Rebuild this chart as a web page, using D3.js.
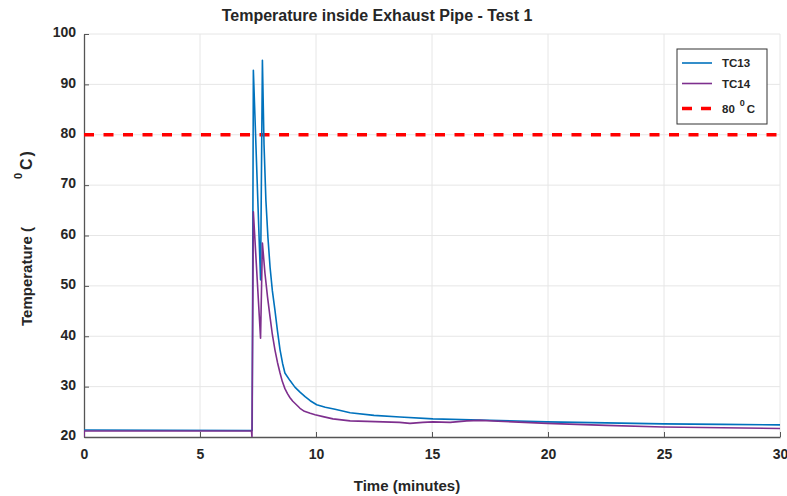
<!DOCTYPE html>
<html>
<head>
<meta charset="utf-8">
<script src="https://cdn.jsdelivr.net/npm/d3@7"></script>
<style>
  body { margin: 0; background: #fff; }
  text { font-family: "Liberation Sans", Arial, sans-serif; font-weight: bold; fill: #262626; }
</style>
</head>
<body>
<div id="chart"></div>
<script>
// data
const tc13Time = [0, 7.25, 7.30, 7.61, 7.69, 7.76, 7.84, 7.93, 8.02, 8.12, 8.23, 8.34, 8.45, 8.56, 8.66, 8.88, 9.09, 9.31, 9.53, 9.75, 10.03, 10.4, 10.82, 11.47, 12.5, 13.62, 15.04, 17.07, 19.96, 22.5, 24.96, 27.5, 30];
const tc13Temp = [21.4, 21.3, 92.8, 51.2, 94.8, 78.0, 67.0, 59.5, 53.7, 49.0, 45.2, 41.0, 37.3, 34.6, 32.7, 31.2, 29.9, 28.9, 28.0, 27.2, 26.4, 25.9, 25.5, 24.8, 24.3, 23.97, 23.6, 23.37, 23.0, 22.8, 22.6, 22.5, 22.4];

const tc14Time = [0, 0.01, 7.22, 7.24, 7.30, 7.61, 7.69, 7.80, 7.91, 8.02, 8.12, 8.23, 8.34, 8.45, 8.55, 8.66, 8.77, 8.88, 9.0, 9.09, 9.2, 9.31, 9.5, 9.75, 9.96, 10.35, 10.73, 11.1, 11.47, 12.2, 12.9, 13.6, 14.05, 14.6, 15.04, 15.78, 16.5, 17.07, 18.5, 19.96, 22.5, 24.96, 27.5, 30];
const tc14Temp = [20, 21.2, 21.2, 20, 64.7, 39.6, 58.5, 52.5, 47.8, 43.8, 40.3, 37.3, 34.8, 32.7, 31.0, 29.6, 28.6, 27.8, 27.1, 26.7, 26.2, 25.7, 25.1, 24.7, 24.4, 24.0, 23.6, 23.4, 23.2, 23.1, 23.0, 22.9, 22.7, 22.9, 23.0, 22.9, 23.2, 23.3, 23.0, 22.7, 22.3, 22.0, 21.85, 21.7];

const limitTemp = 80;
const xTicks = [0, 5, 10, 15, 20, 25, 30];
const yTicks = [20, 30, 40, 50, 60, 70, 80, 90, 100];

const bigWidth = 787, bigHeight = 496;
const margin = {top: 34, right: 7, bottom: 59, left: 84};
const width = bigWidth - margin.left - margin.right;
const height = bigHeight - margin.top - margin.bottom;

const svgRoot = d3.select("#chart").append("svg")
  .attr("width", bigWidth)
  .attr("height", bigHeight);

const svg = svgRoot.append("g")
  .attr("transform", `translate(${margin.left},${margin.top})`);

const xScale = d3.scaleLinear().domain([0, 30]).range([0, width]);
const yScale = d3.scaleLinear().domain([20, 100]).range([height, 0]);

// grid
svg.append("g")
  .selectAll("line")
  .data(xTicks.slice(1))
  .enter().append("line")
  .attr("x1", d => xScale(d)).attr("x2", d => xScale(d))
  .attr("y1", 0).attr("y2", height)
  .attr("stroke", "#e6e6e6");

svg.append("g")
  .selectAll("line")
  .data(yTicks.slice(1))
  .enter().append("line")
  .attr("x1", 0).attr("x2", width)
  .attr("y1", d => yScale(d)).attr("y2", d => yScale(d))
  .attr("stroke", "#e6e6e6");

// axes, ticks point inward
const xAxis = svg.append("g")
  .attr("transform", `translate(0,${height})`)
  .call(d3.axisBottom(xScale).tickValues(xTicks).tickSizeInner(-5).tickSizeOuter(0).tickPadding(12));

const yAxis = svg.append("g")
  .call(d3.axisLeft(yScale).tickValues(yTicks).tickSizeInner(-5).tickSizeOuter(0).tickPadding(8));

[xAxis, yAxis].forEach(ax => {
  ax.select(".domain").attr("stroke", "#555").attr("stroke-width", 1.3);
  ax.selectAll(".tick line").attr("stroke", "#555");
  ax.selectAll(".tick text").attr("font-size", 14).attr("font-family", null).attr("fill", "#262626");
});
yAxis.selectAll(".tick text").attr("dy", "0.2em");

// lines
svg.append("clipPath").attr("id", "clip")
  .append("rect").attr("width", width).attr("height", height);

const plotArea = svg.append("g").attr("clip-path", "url(#clip)");

plotArea.append("line")
  .attr("x1", 0).attr("x2", width)
  .attr("y1", yScale(limitTemp)).attr("y2", yScale(limitTemp))
  .attr("stroke", "#ff0000")
  .attr("stroke-width", 3.5)
  .attr("stroke-dasharray", "10,9.5");

const line = d3.line()
  .x(d => xScale(d[0]))
  .y(d => yScale(d[1]));

plotArea.append("path")
  .datum(d3.zip(tc13Time, tc13Temp))
  .attr("d", line)
  .attr("fill", "none")
  .attr("stroke", "#0072bd")
  .attr("stroke-width", 1.6)
  .attr("stroke-linejoin", "round");

plotArea.append("path")
  .datum(d3.zip(tc14Time, tc14Temp))
  .attr("d", line)
  .attr("fill", "none")
  .attr("stroke", "#7e2f8e")
  .attr("stroke-width", 1.6)
  .attr("stroke-linejoin", "round");

// title and labels
svgRoot.append("text")
  .attr("x", 377).attr("y", 21)
  .attr("text-anchor", "middle")
  .attr("font-size", 16)
  .text("Temperature inside Exhaust Pipe - Test 1");

svgRoot.append("text")
  .attr("x", 407).attr("y", 491)
  .attr("text-anchor", "middle")
  .attr("font-size", 15)
  .text("Time (minutes)");

const yLabel = svgRoot.append("text")
  .attr("transform", "translate(32,326) rotate(-90)")
  .attr("font-size", 15);
yLabel.append("tspan").text("Temperature (");
yLabel.append("tspan").attr("dx", 48).attr("dy", -10).attr("font-size", 11).text("0");
yLabel.append("tspan").attr("dx", 3).attr("dy", 10).attr("font-size", 16).attr("letter-spacing", 2).text("C)");

// legend
const legend = svgRoot.append("g").attr("transform", "translate(677,49)");
legend.append("rect")
  .attr("width", 90).attr("height", 75)
  .attr("fill", "#fff")
  .attr("stroke", "#333");

const legendItems = [
  {label: "TC13", color: "#0072bd", dash: null, width: 1.6, y: 14},
  {label: "TC14", color: "#7e2f8e", dash: null, width: 1.6, y: 34.5},
  {label: "80", color: "#ff0000", dash: "10,9", width: 3.5, y: 59.5}
];

legendItems.forEach(item => {
  legend.append("line")
    .attr("x1", 5).attr("x2", 35)
    .attr("y1", item.y).attr("y2", item.y)
    .attr("stroke", item.color)
    .attr("stroke-width", item.width)
    .attr("stroke-dasharray", item.dash);
  const t = legend.append("text")
    .attr("x", 45).attr("y", item.y + 4)
    .attr("font-size", 11.5)
    .attr("fill", "#000")
    .text(item.label);
  if (item.label === "80") {
    t.append("tspan").attr("dx", 5).attr("dy", -7).attr("font-size", 9).text("0");
    t.append("tspan").attr("dx", 2).attr("dy", 7).text("C");
  }
});
</script>
</body>
</html>
